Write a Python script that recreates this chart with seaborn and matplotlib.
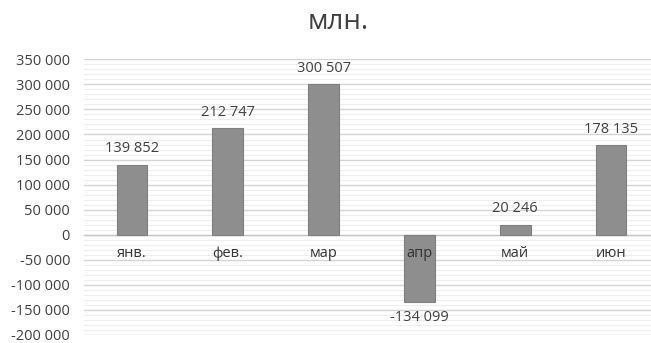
import matplotlib
matplotlib.use("Agg")
import matplotlib.pyplot as plt
import matplotlib.ticker as mticker
import seaborn as sns
import pandas as pd

months = ["янв.", "фев.", "мар", "апр", "май", "июн"]
values = [139852, 212747, 300507, -134099, 20246, 178135]
title = "млн."

df = pd.DataFrame({"month": months, "value": values})

sns.set_theme(style="white")
plt.rcParams["font.family"] = ["Open Sans", "DejaVu Sans"]

fig = plt.figure(figsize=(6.51, 3.43), dpi=100)
ax = fig.add_axes([84 / 651, 8 / 343, 575 / 651, 275.7 / 343])

sns.barplot(data=df, x="month", y="value", color="#8E8E8E", width=0.32,
            saturation=1, edgecolor="#7F7F7F", linewidth=0.8, ax=ax, zorder=3)

ax.set_xlim(-0.5, 5.5)
ax.set_ylim(-200000, 350000)
ax.yaxis.set_major_locator(mticker.MultipleLocator(50000))
ax.yaxis.set_minor_locator(mticker.MultipleLocator(10000))
fmt = lambda v, p: f"{int(round(v)):,}".replace(",", " ")
ax.yaxis.set_major_formatter(mticker.FuncFormatter(fmt))

ax.grid(axis="y", which="major", color="#D4D4D4", linewidth=1.0, zorder=1)
ax.grid(axis="y", which="minor", color="#EEEEEE", linewidth=0.8, zorder=0)
ax.set_axisbelow(True)

for s in ["top", "right", "left"]:
    ax.spines[s].set_visible(False)
ax.spines["bottom"].set_position(("data", 0))
ax.spines["bottom"].set_color("#C8C8C8")
ax.spines["bottom"].set_linewidth(1.0)

ax.tick_params(axis="y", length=0, pad=10, labelsize=10.5, labelcolor="#404040")
ax.tick_params(axis="x", length=0, labelbottom=False)
ax.tick_params(axis="y", which="minor", length=0)
ax.set_xlabel("")
ax.set_ylabel("")

# category labels next to the zero line, drawn above bars
for i, m in enumerate(months):
    ax.annotate(m, (i, 0), xytext=(0, -8), textcoords="offset points",
                ha="center", va="top", fontsize=10.5, color="#333333", zorder=6)

for i, v in enumerate(values):
    label = fmt(v, None)
    if v >= 0:
        ax.annotate(label, (i, v), xytext=(0, 6), textcoords="offset points",
                    ha="center", va="bottom", fontsize=10.5, color="#404040")
    else:
        ax.annotate(label, (i, v), xytext=(0, -6), textcoords="offset points",
                    ha="center", va="top", fontsize=10.5, color="#404040")

fig.text(338 / 651, 1 - 22 / 343, title, ha="center", va="center",
         fontsize=20, color="#404040")

fig.savefig("out.png", dpi=100)
